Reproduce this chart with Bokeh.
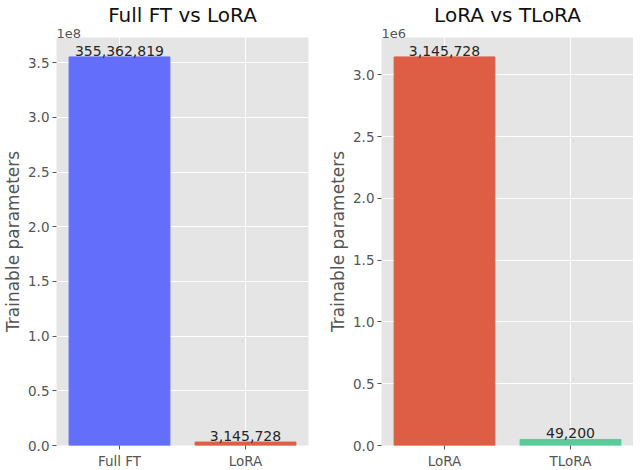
from bokeh.plotting import figure
from bokeh.layouts import row
from bokeh.models import ColumnDataSource, SingleIntervalTicker, CustomJSTickFormatter, Title, LabelSet
from bokeh.core.properties import value
from bokeh.embed import file_html
from bokeh.resources import INLINE

left_names = ["Full FT", "LoRA"]
left_params = [355362819, 3145728]
left_colors = ["#636EFA", "#DE5E45"]

right_names = ["LoRA", "TLoRA"]
right_params = [3145728, 49200]
right_colors = ["#DE5E45", "#5BCB9B"]

FONT = "DejaVu Sans"
GREY = "#555555"


def panel(title, names, vals, colors, scale, exp_text, border_left, border_right):
    src = ColumnDataSource(dict(name=names, val=vals, color=colors,
                                txt=[f"{v:,}" for v in vals]))
    top = max(vals) * 1.05
    p = figure(x_range=names, y_range=(0, top), frame_width=252, frame_height=408,
               output_backend="svg", toolbar_location=None,
               min_border_left=border_left, min_border_right=border_right,
               min_border_top=0, min_border_bottom=0)
    p.x_range.range_padding = 0
    p.vbar(x="name", top="val", width=0.8, color="color", source=src)

    p.add_layout(LabelSet(x="name", y="val", text="txt", source=src,
                          text_align="center", text_baseline="bottom", y_offset=1,
                          text_font=value(FONT), text_font_size="14px", text_color="#262626"))

    # scale exponent just above the top-left corner of the axes
    p.add_layout(Title(text=exp_text, align="left", standoff=0, text_font=FONT,
                       text_font_size="13px", text_font_style="normal",
                       text_color=GREY, text_line_height=1.0), "above")

    p.title.text = title
    p.title.align = "center"
    p.title.standoff = 0
    p.title.text_line_height = 1.0
    p.title.text_font = FONT
    p.title.text_font_size = "20px"
    p.title.text_font_style = "normal"
    p.title.text_color = "#111111"

    p.background_fill_color = "#E5E5E5"
    p.border_fill_color = "white"
    p.outline_line_color = None
    p.grid.grid_line_color = "white"
    p.grid.grid_line_width = 1

    p.yaxis.ticker = SingleIntervalTicker(interval=scale / 2, num_minor_ticks=0)
    p.yaxis.formatter = CustomJSTickFormatter(code="return (tick / %g).toFixed(1);" % scale)
    p.yaxis.axis_label = "Trainable parameters"
    p.yaxis.axis_label_text_font = FONT
    p.yaxis.axis_label_text_font_size = "17px"
    p.yaxis.axis_label_text_font_style = "normal"
    p.yaxis.axis_label_text_color = GREY
    p.yaxis.axis_label_text_line_height = 1.0
    p.yaxis.axis_label_standoff = 2

    p.axis.axis_line_color = None
    p.axis.major_tick_line_color = GREY
    p.axis.major_tick_out = 4
    p.axis.major_tick_in = 0
    p.axis.minor_tick_line_color = None
    p.axis.major_label_text_font = FONT
    p.axis.major_label_text_font_size = "13.5px"
    p.axis.major_label_text_color = GREY
    p.axis.major_label_standoff = 3
    p.xaxis.major_label_text_line_height = 1.0
    return p


p1 = panel("Full FT vs LoRA", left_names, left_params, left_colors, 1e8, "1e8", 55, 9)
p2 = panel("LoRA vs TLoRA", right_names, right_params, right_colors, 1e6, "1e6", 64, 0)

p = row(p1, p2)
open("out.html", "w").write(file_html(p, INLINE))
